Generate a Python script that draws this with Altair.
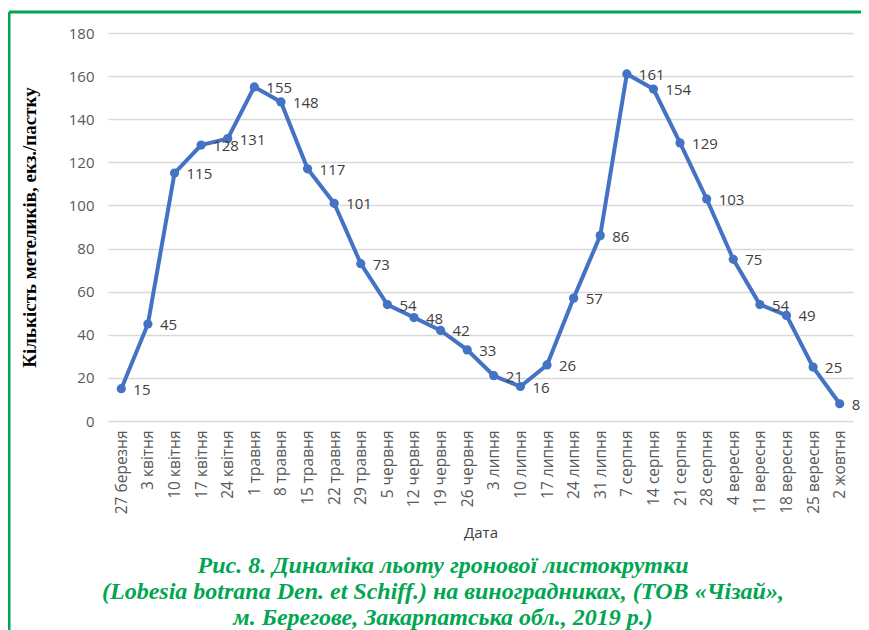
import altair as alt
import pandas as pd

dates = ["27 березня", "3 квітня", "10 квітня", "17 квітня", "24 квітня", "1 травня",
         "8 травня", "15 травня", "22 травня", "29 травня", "5 червня", "12 червня",
         "19 червня", "26 червня", "3 липня", "10 липня", "17 липня", "24 липня",
         "31 липня", "7 серпня", "14 серпня", "21 серпня", "28 серпня", "4 вересня",
         "11 вересня", "18 вересня", "25 вересня", "2 жовтня"]
values = [15, 45, 115, 128, 131, 155, 148, 117, 101, 73, 54, 48, 42, 33, 21, 16, 26,
          57, 86, 161, 154, 129, 103, 75, 54, 49, 25, 8]
y_ticks = [0, 20, 40, 60, 80, 100, 120, 140, 160, 180]
caption = ["Рис. 8. Динаміка льоту гронової листокрутки",
           "(Lobesia botrana Den. et Schiff.) на виноградниках, (ТОВ «Чізай»,",
           "м. Берегове, Закарпатська обл., 2019 р.)"]

df = pd.DataFrame({"date": dates, "value": values})
one = pd.DataFrame({"k": [0]})

W, H = 745, 388
GREEN = "#00a651"
BLUE = "#4472c4"

x = alt.X("date:N", sort=dates, title="Дата",
          scale=alt.Scale(paddingInner=0, paddingOuter=0.5),
          axis=alt.Axis(labelAngle=-90, labelFont="Open Sans", labelFontSize=15.5,
                        labelColor="#595959", ticks=False, domain=False, grid=False,
                        labelPadding=9, titleFont="Open Sans", titleFontSize=15,
                        titleFontWeight="normal", titleColor="#404040", titlePadding=12))
y = alt.Y("value:Q", title="Кількість метеликів, екз./пастку",
          scale=alt.Scale(domain=[0, 180]),
          axis=alt.Axis(values=y_ticks, labelFont="Open Sans", labelFontSize=15,
                        labelColor="#595959", ticks=False, domain=False,
                        gridColor="#d9d9d9", gridWidth=1.3, labelPadding=14,
                        titleFont="Liberation Serif", titleFontSize=19,
                        titleFontWeight="bold", titleColor="#000000", titlePadding=29))

base = alt.Chart(df)
line = base.mark_line(color=BLUE, strokeWidth=4).encode(x=x, y=y)
pts = base.mark_point(filled=True, color=BLUE, size=85, opacity=1).encode(x=x, y=y)
labels = base.mark_text(align="left", baseline="middle", dx=12, dy=1,
                        font="Open Sans", fontSize=15, color="#404040").encode(
    x=x, y=y, text="value:Q")

border_left = alt.Chart(one).mark_rule(color=GREEN, strokeWidth=3, clip=False).encode(
    x=alt.value(-99), y=alt.value(-21), y2=alt.value(H + 220))
border_top = alt.Chart(one).mark_rule(color=GREEN, strokeWidth=3, clip=False).encode(
    x=alt.value(-99), x2=alt.value(W + 8), y=alt.value(-21))

cap = alt.Chart(one).mark_text(font="Liberation Serif", fontSize=24, fontStyle="italic",
                               fontWeight="bold", color=GREEN, lineHeight=26,
                               align="center", baseline="middle").encode(
    x=alt.value(335), y=alt.value(533), text=alt.value(caption))

chart = alt.layer(border_left, border_top, line, pts, labels, cap).properties(
    width=W, height=H,
    autosize=alt.AutoSizeParams(type="none"),
    padding={"left": 100, "top": 25, "right": 8, "bottom": 209},
).configure_view(stroke=None)

chart.save("out.html", embed_options={"renderer": "svg", "actions": False})
